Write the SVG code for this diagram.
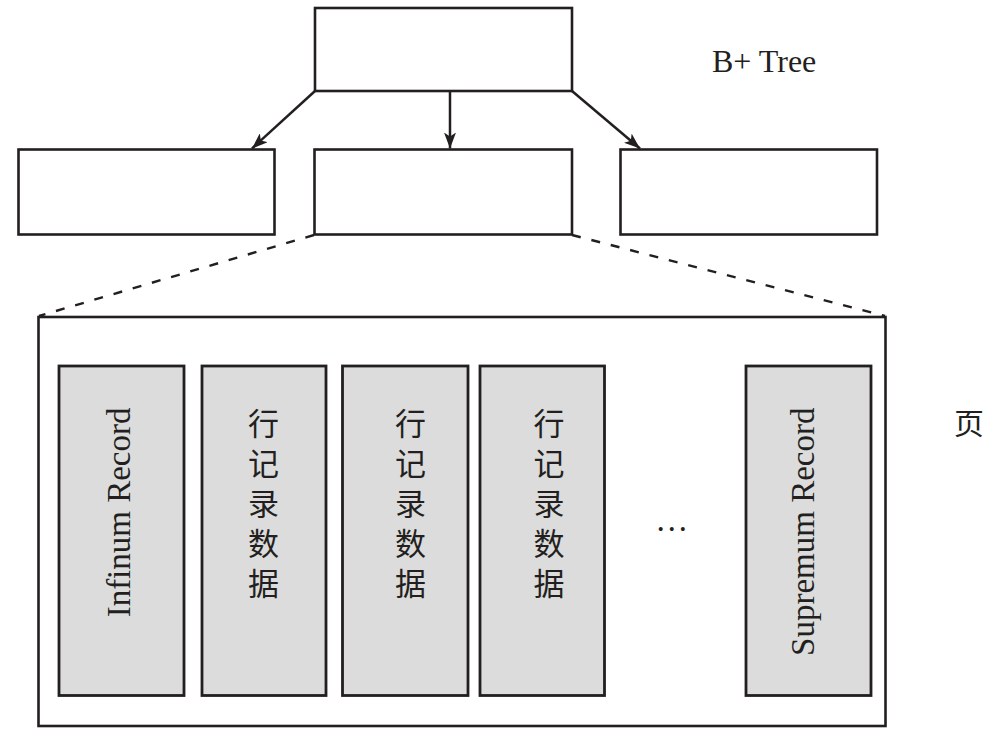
<svg xmlns="http://www.w3.org/2000/svg" width="1003" height="746" viewBox="0 0 1003 746">
<style>
.box{fill:#ffffff;stroke:#231f20;stroke-width:2.6}
.rec{fill:#dcdcdc;stroke:#231f20;stroke-width:2.8}
.edge{fill:none;stroke:#231f20;stroke-width:2.5}
.dash{fill:none;stroke:#231f20;stroke-width:2.4;stroke-dasharray:9 11}
.en{font-family:"Liberation Serif","Times New Roman",serif;fill:#231f20}
.zh{font-family:"Noto Sans CJK SC","Noto Sans CJK TC",sans-serif;fill:#231f20;font-size:31px}
.vt{writing-mode:vertical-rl;text-orientation:upright;letter-spacing:9px;text-anchor:start}
</style>
<defs>
<marker id="arr" markerUnits="userSpaceOnUse" markerWidth="18" markerHeight="12" refX="16" refY="6" orient="auto">
<path d="M0,0 L16,6 L0,12 L4,6 Z" fill="#231f20"/>
</marker>
</defs>
<rect width="1003" height="746" fill="#ffffff"/>
<g id="root"><rect class="box" x="315" y="8" width="257" height="83"/></g>
<g id="leaf-left"><rect class="box" x="18.5" y="149.5" width="256" height="85"/></g>
<g id="leaf-mid"><rect class="box" x="314.5" y="149.5" width="257.5" height="85"/></g>
<g id="leaf-right"><rect class="box" x="620.5" y="149.5" width="256.5" height="85"/></g>
<g id="label-btree"><text class="en" x="712" y="72" font-size="32">B+ Tree</text></g>
<g id="connectors">
<line class="edge" x1="315" y1="91" x2="252" y2="148.5" marker-end="url(#arr)"/>
<line class="edge" x1="450" y1="91" x2="450" y2="148.5" marker-end="url(#arr)"/>
<line class="edge" x1="572" y1="91" x2="640" y2="148.5" marker-end="url(#arr)"/>
<line class="dash" x1="314" y1="235" x2="39" y2="316"/>
<line class="dash" x1="572" y1="235" x2="885" y2="316"/>
</g>
<g id="page">
<rect class="box" x="38.5" y="317" width="847" height="409"/>
</g>
<g id="label-page"><text class="zh" x="969" y="434" text-anchor="middle" style="font-size:30px">页</text></g>
<g id="infimum">
<rect class="rec" x="59" y="366" width="125" height="329.5"/>
<text class="en" font-size="33" text-anchor="end" transform="translate(129.5,407.5) rotate(-90)">Infinum Record</text>
</g>
<g id="row1">
<rect class="rec" x="202" y="366" width="124" height="329.5"/>
<text class="zh vt" x="263.5" y="408">行记录数据</text>
</g>
<g id="row2">
<rect class="rec" x="342.5" y="366" width="125.5" height="329.5"/>
<text class="zh vt" x="410.5" y="408">行记录数据</text>
</g>
<g id="row3">
<rect class="rec" x="480" y="366" width="124.5" height="329.5"/>
<text class="zh vt" x="549" y="408">行记录数据</text>
</g>
<g id="ellipsis"><text class="en" x="671.7" y="531" font-size="33" text-anchor="middle">…</text></g>
<g id="supremum">
<rect class="rec" x="746" y="366" width="125" height="329.5"/>
<text class="en" font-size="33" text-anchor="end" transform="translate(814,407.5) rotate(-90)">Supremum Record</text>
</g>
</svg>
